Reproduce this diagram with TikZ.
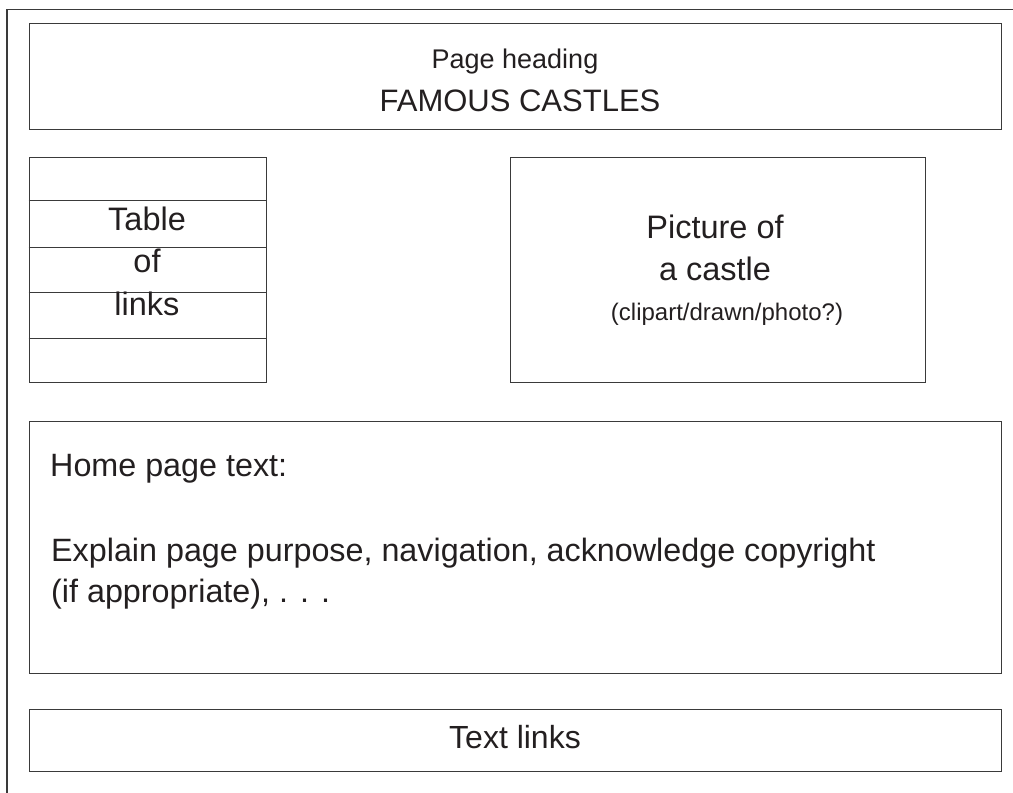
\documentclass[tikz,border=0pt]{standalone}
\usepackage{fontspec}
\setmainfont{Liberation Sans}
\definecolor{ink}{HTML}{231F20}
\definecolor{frame}{HTML}{3A3A3A}
\tikzset{
  box/.style={draw=frame, line width=0.9pt, rectangle, inner sep=0pt},
  txt/.style={anchor=base, inner sep=0pt, text=ink},
  ltxt/.style={anchor=base west, inner sep=0pt, text=ink},
}
\begin{document}
\begin{tikzpicture}[x=1pt,y=-1pt]
\useasboundingbox (0,0) rectangle (1013,793);
% outer frame (open to right and bottom)
\coordinate (fa) at (7,793);
\coordinate (fb) at (7,9.5);
\coordinate (fc) at (1013,9.5);
\draw[frame, line width=1.2pt] (fa) -- (fb) -- (fc);
% boxes
\node[box, minimum width=972pt, minimum height=106pt] (head) at (515,76) {};
\node[box, minimum width=237pt, minimum height=225pt] (toc) at (147.5,269.5) {};
\node[box, minimum width=415pt, minimum height=225pt] (pic) at (717.5,269.5) {};
\node[box, minimum width=972pt, minimum height=252pt] (home) at (515,547) {};
\node[box, minimum width=972pt, minimum height=62pt] (links) at (515,740) {};
% table rows
\foreach \yy in {200,247,292,338}{
  \draw[frame, line width=0.9pt] (toc.west |- 0,\yy) -- (toc.east |- 0,\yy);
}
% texts
\node[txt, font=\fontsize{27}{27}\selectfont] (t1) at (515,68) {Page heading};
\node[txt, font=\fontsize{31}{31}\selectfont] (t2) at (520,111) {FAMOUS CASTLES};
\node[txt, font=\fontsize{32.5}{32.5}\selectfont] (t3) at (147,230) {Table};
\node[txt, font=\fontsize{32.5}{32.5}\selectfont] (t4) at (147,272) {of};
\node[txt, font=\fontsize{32.5}{32.5}\selectfont] (t5) at (147,315) {links};
\node[txt, font=\fontsize{32.5}{32.5}\selectfont] (t6) at (715,238) {Picture of};
\node[txt, font=\fontsize{32.5}{32.5}\selectfont] (t7) at (715,280) {a castle};
\node[txt, font=\fontsize{24}{24}\selectfont] (t8) at (727,320) {(clipart/drawn/photo?)};
\node[ltxt, font=\fontsize{32.3}{32.3}\selectfont] (t9) at (50,476) {Home page text:};
\node[ltxt, font=\fontsize{32.3}{32.3}\selectfont] (t10) at (51,561) {Explain page purpose, navigation, acknowledge copyright};
\node[ltxt, font=\fontsize{32.3}{32.3}\selectfont] (t11) at (51,602) {(if appropriate), . . .};
\node[txt, font=\fontsize{32}{32}\selectfont] (t12) at (515,748) {Text links};
\end{tikzpicture}
\end{document}
